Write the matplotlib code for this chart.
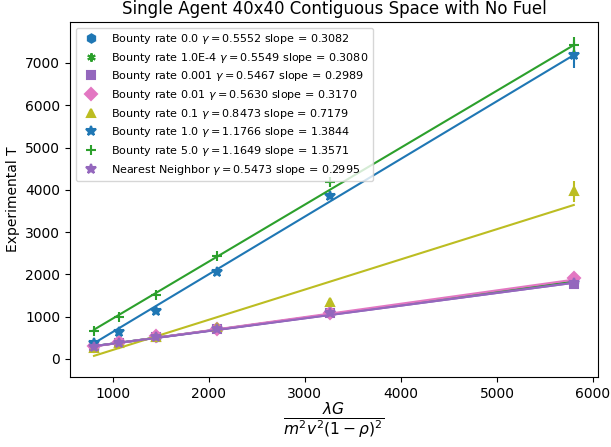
import matplotlib
matplotlib.use("Agg")
import matplotlib.pyplot as plt
import numpy as np

x = [805, 1063, 1448, 2084, 3260, 5800]

labels = ["Bounty rate 0.0", "Bounty rate 1.0E-4", "Bounty rate 0.001", "Bounty rate 0.01",
          "Bounty rate 0.1", "Bounty rate 1.0", "Bounty rate 5.0", "Nearest Neighbor"]
gammas = ["0.5552", "0.5549", "0.5467", "0.5630", "0.8473", "1.1766", "1.1649", "0.5473"]
slopes_txt = ["0.3082", "0.3080", "0.2989", "0.3170", "0.7179", "1.3844", "1.3571", "0.2995"]

y_b00 = [290, 390, 525, 705, 1080, 1830]
y_b1e4 = [290, 385, 525, 705, 1080, 1830]
y_b001 = [285, 385, 520, 700, 1075, 1775]
y_b01 = [295, 390, 530, 710, 1085, 1915]
y_b01b = [250, 370, 520, 760, 1348, 3960]
y_b10 = [385, 645, 1135, 2057, 3860, 7190]
y_b50 = [670, 990, 1513, 2436, 4175, 7430]
y_nn = [290, 385, 527, 702, 1081, 1800]

err_b00 = [10, 15, 20, 30, 50, 60]
err_b1e4 = [10, 15, 20, 30, 50, 60]
err_b001 = [10, 15, 20, 30, 50, 60]
err_b01 = [10, 15, 20, 30, 50, 60]
err_b01b = [10, 20, 30, 40, 60, 240]
err_b10 = [10, 20, 30, 50, 60, 300]
err_b50 = [10, 20, 30, 50, 60, 180]
err_nn = [10, 15, 20, 30, 50, 60]

fit_slope = [0.306, 0.306, 0.300, 0.316, 0.7147, 1.365, 1.348, 0.300]
fit_intercept = [54, 54, 60, 40, -505, -729, -395, 58]

series = [y_b00, y_b1e4, y_b001, y_b01, y_b01b, y_b10, y_b50, y_nn]
errs = [err_b00, err_b1e4, err_b001, err_b01, err_b01b, err_b10, err_b50, err_nn]
colors = ["C0", "C2", "C4", "C6", "C8", "C0", "C2", "C4"]
markers = ["h", (6, 2, 0), "s", "D", "^", "*", "+", "*"]
msizes = [6, 6, 6, 6, 6, 7, 7, 7]

fig = plt.figure(figsize=(6.11, 4.47), dpi=100)
ax = fig.add_axes([70/611, 1-377/447, (598-70)/611, (377-22)/447])

xa = np.array(x, dtype=float)
for i in range(len(series)):
    ax.errorbar(x, series[i], yerr=errs[i], fmt="none", ecolor=colors[i], elinewidth=1.5)
    ax.plot(x, series[i], linestyle="none", marker=markers[i], color=colors[i],
            markersize=msizes[i], markeredgewidth=1.5,
            label=f"{labels[i]} $\\gamma = {gammas[i]}$ slope = {slopes_txt[i]}")
    ax.plot(xa, fit_slope[i]*xa + fit_intercept[i], color=colors[i], linewidth=1.5)

ax.set_xlim(555, 6052)
ax.set_ylim(-430, 7970)
ax.set_xticks([1000, 2000, 3000, 4000, 5000, 6000])
ax.set_yticks([0, 1000, 2000, 3000, 4000, 5000, 6000, 7000])
ax.set_title("Single Agent 40x40 Contiguous Space with No Fuel", fontsize=12)
ax.set_ylabel("Experimental T", fontsize=10)
ax.set_xlabel(r"$\frac{\lambda G}{m^2 v^2 (1-\rho)^2}$", fontsize=16, labelpad=0)
ax.legend(loc="upper left", fontsize=8, numpoints=1, labelspacing=0.42,
          borderaxespad=0.5)

fig.savefig("out.png", dpi=100)
